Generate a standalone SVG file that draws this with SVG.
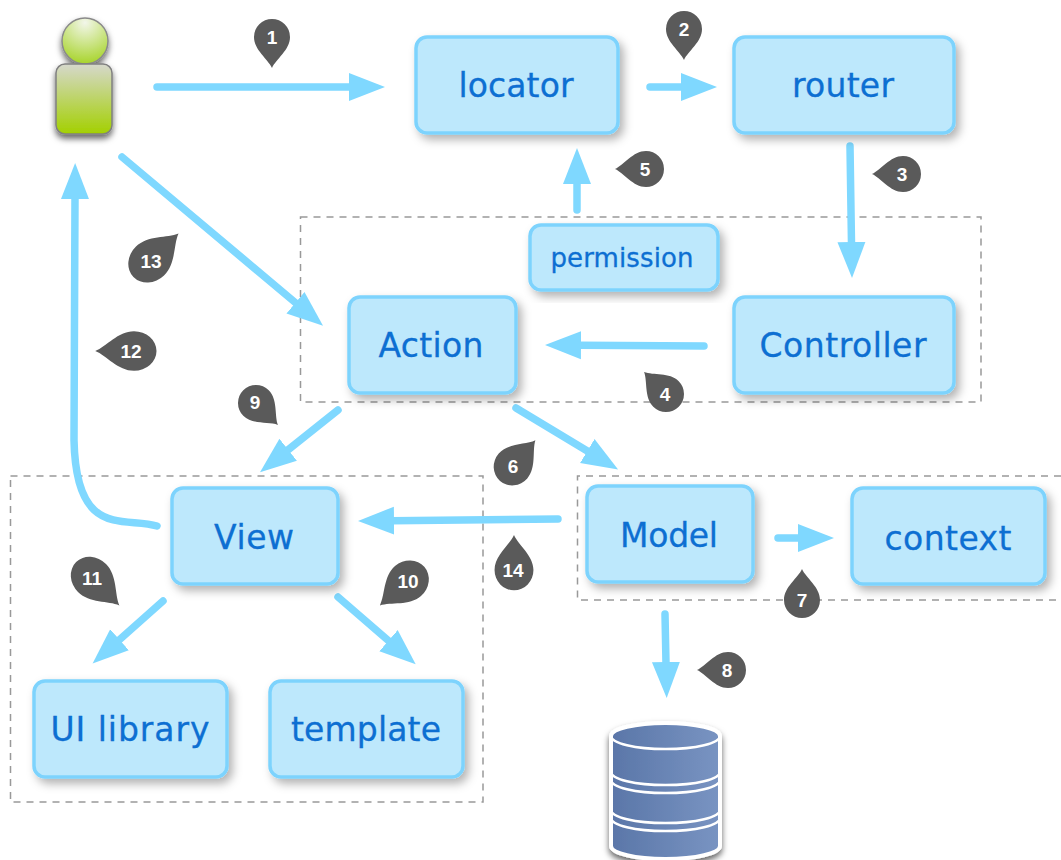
<svg xmlns="http://www.w3.org/2000/svg" width="1061" height="860" viewBox="0 0 1061 860">
<style>
.box{fill:#bde8fc;stroke:#7dd3fd;stroke-width:3.500;filter:url(#sh)}
.lbl{font-family:"DejaVu Sans",Verdana,sans-serif;font-size:33px;fill:#0d6fd2;stroke:#0d6fd2;stroke-width:0.300;text-anchor:middle}
.pin{fill:#5a5a5a}
.num{font-family:"Liberation Sans",Arial,sans-serif;font-size:19px;font-weight:bold;fill:#fff;text-anchor:middle}
.dash{fill:none;stroke:#999;stroke-width:1.500;stroke-dasharray:7 6}
.arr{fill:none;stroke:#7fd8ff;stroke-width:7.500;stroke-linecap:round;marker-end:url(#ah)}
</style>
<defs>
<filter id="sh" x="-15%" y="-15%" width="130%" height="135%"><feDropShadow dx="4" dy="5" stdDeviation="5" flood-color="#000" flood-opacity="0.3"/></filter>
<filter id="sh2" x="-25%" y="-15%" width="150%" height="130%"><feDropShadow dx="0" dy="4" stdDeviation="3" flood-color="#000" flood-opacity="0.6"/></filter>
<marker id="ah" markerUnits="userSpaceOnUse" markerWidth="40" markerHeight="32" refX="2" refY="15" orient="auto"><path d="M0,1L36,15L0,29Z" fill="#7fd8ff"/></marker>
<path id="p" class="pin" d="M0,31C-4,22-18,13-18,0A18,18 0 1 1 18,0C18,13 4,22 0,31Z"/>
<linearGradient id="body" x1="0" y1="0" x2="0" y2="1"><stop offset="0" stop-color="#d6d8cc"/><stop offset="1" stop-color="#a3d000"/></linearGradient>
<radialGradient id="head" cx="0.5" cy="0.1" r="0.9"><stop offset="0" stop-color="#f2f6ea"/><stop offset="1" stop-color="#a8d42c"/></radialGradient>
<linearGradient id="cyl" x1="0" y1="0" x2="1" y2="0"><stop offset="0" stop-color="#5a76a8"/><stop offset="1" stop-color="#7994c2"/></linearGradient>
</defs>

<g id="frames">
<rect class="dash" x="300.500" y="217" width="680.500" height="185"/>
<rect class="dash" x="10.500" y="476" width="472.500" height="326"/>
<path class="dash" d="M1061,476H577.500V600H1061"/>
</g>

<g id="connectors">
<path class="arr" d="M157,87H351"/>
<path class="arr" d="M650,87H683"/>
<path class="arr" d="M850,146L851.500,244"/>
<path class="arr" d="M704,346L579,345.200"/>
<path class="arr" d="M577,210V182"/>
<path class="arr" d="M122,157L297,304"/>
<path class="arr" d="M338,410L286.600,451"/>
<path class="arr" d="M516,408L589,452"/>
<path class="arr" d="M558,519L392,520.700"/>
<path class="arr" d="M778,538H800"/>
<path class="arr" d="M665,614L666,664"/>
<path class="arr" d="M338,597L390,642"/>
<path class="arr" d="M163,601L118,641"/>
<path class="arr" d="M157,526C125,516 76,540 74,440L75,197"/>
</g>

<g id="user" filter="url(#sh2)">
<circle cx="85" cy="41" r="23" fill="url(#head)" stroke="#8a8a8a" stroke-width="1.500"/>
<rect x="56" y="64" width="56" height="70" rx="9" fill="url(#body)" stroke="#808080" stroke-width="1.500"/>
</g>

<g id="locator"><rect class="box" x="416" y="37" width="202" height="96" rx="11"/><text class="lbl" x="516" y="97" textLength="115">locator</text></g>
<g id="router"><rect class="box" x="734" y="37" width="220" height="96" rx="11"/><text class="lbl" x="843" y="97" textLength="102">router</text></g>
<g id="permission"><rect class="box" x="530" y="225" width="188" height="65" rx="11"/><text class="lbl" x="622" y="267" textLength="143" style="font-size:26px">permission</text></g>
<g id="action"><rect class="box" x="349" y="297" width="167" height="96" rx="11"/><text class="lbl" x="431" y="357" textLength="105">Action</text></g>
<g id="controller"><rect class="box" x="734" y="297" width="220" height="96" rx="11"/><text class="lbl" x="843" y="357" textLength="167">Controller</text></g>
<g id="view"><rect class="box" x="172" y="488" width="166" height="96" rx="11"/><text class="lbl" x="254" y="549" textLength="80">View</text></g>
<g id="model"><rect class="box" x="587" y="486" width="166" height="96" rx="11"/><text class="lbl" x="669" y="547" textLength="98">Model</text></g>
<g id="context"><rect class="box" x="852" y="488" width="193" height="96" rx="11"/><text class="lbl" x="948" y="550" textLength="127">context</text></g>
<g id="uilibrary"><rect class="box" x="34" y="681" width="193" height="96" rx="11"/><text class="lbl" x="130" y="741" textLength="159">UI library</text></g>
<g id="template"><rect class="box" x="270" y="681" width="193" height="96" rx="11"/><text class="lbl" x="366" y="741" textLength="150">template</text></g>

<g id="database" filter="url(#sh2)">
<path d="M611,736A54,13 0 0 1 720,736V846A54,13 0 0 1 611,846Z" fill="url(#cyl)" stroke="#fff" stroke-width="4"/>
<path d="M611,736A54,13 0 0 0 720,736" fill="none" stroke="#fff" stroke-width="2.500"/>
<path d="M611,772A54,13 0 0 0 720,772" fill="none" stroke="#fff" stroke-width="2.500"/>
<path d="M611,780A54,13 0 0 0 720,780" fill="none" stroke="#fff" stroke-width="2.500"/>
<path d="M611,810A54,13 0 0 0 720,810" fill="none" stroke="#fff" stroke-width="2.500"/>
<path d="M611,818A54,13 0 0 0 720,818" fill="none" stroke="#fff" stroke-width="2.500"/>
</g>

<g id="pins">
<g id="pin1"><use href="#p" transform="translate(272,37)"/><text class="num" x="272" y="44">1</text></g>
<g id="pin2"><use href="#p" transform="translate(684,29)"/><text class="num" x="684" y="36">2</text></g>
<g id="pin3"><use href="#p" transform="translate(903,174) rotate(90)"/><text class="num" x="902" y="181">3</text></g>
<g id="pin4"><use href="#p" transform="translate(666,394) rotate(135)"/><text class="num" x="665" y="401">4</text></g>
<g id="pin5"><use href="#p" transform="translate(646,169) rotate(90)"/><text class="num" x="645" y="176">5</text></g>
<g id="pin6"><use href="#p" transform="translate(513,466) rotate(-139) scale(1.050,1.100)"/><text class="num" x="513" y="473">6</text></g>
<g id="pin7"><use href="#p" transform="translate(802,600) rotate(180)"/><text class="num" x="802" y="607">7</text></g>
<g id="pin8"><use href="#p" transform="translate(728,670) rotate(90)"/><text class="num" x="727" y="677">8</text></g>
<g id="pin9"><use href="#p" transform="translate(256,403) rotate(-45)"/><text class="num" x="255" y="409">9</text></g>
<g id="pin10"><use href="#p" transform="translate(408,581) rotate(49) scale(1.100,1.200)"/><text class="num" x="408" y="588">10</text></g>
<g id="pin11"><use href="#p" transform="translate(92,578) rotate(-45) scale(1.100,1.250)"/><text class="num" x="92" y="585">11</text></g>
<g id="pin12"><use href="#p" transform="translate(134,351) rotate(90) scale(1.100,1.250)"/><text class="num" x="131" y="358">12</text></g>
<g id="pin13"><use href="#p" transform="translate(150,261) rotate(-134) scale(1.120,1.280)"/><text class="num" x="151" y="268">13</text></g>
<g id="pin14"><use href="#p" transform="translate(514,570) rotate(180) scale(1.080,1.130)"/><text class="num" x="513" y="577">14</text></g>
</g>
</svg>
